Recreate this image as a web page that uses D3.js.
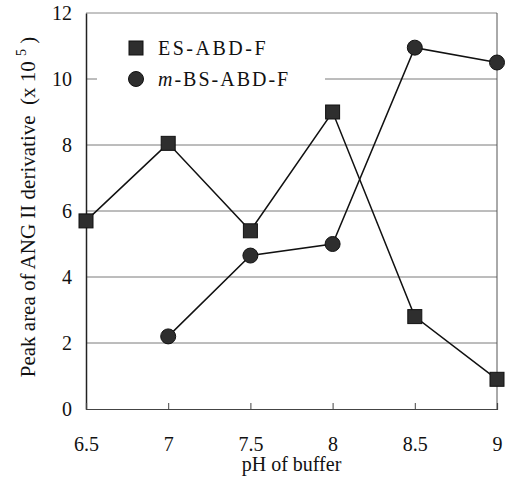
<!DOCTYPE html>
<html><head><meta charset="utf-8">
<script src="https://cdn.jsdelivr.net/npm/d3@7"></script>
<style>html,body{margin:0;padding:0;background:#fff;}
svg text{font-family:"Liberation Serif","DejaVu Serif",serif;}</style>
</head><body>
<svg id="c" width="508" height="481"></svg>
<script>
const phValues = [6.5, 7, 7.5, 8, 8.5, 9];
const esAbdF = [5.7, 8.05, 5.4, 9.0, 2.8, 0.9];
const mbsPh = [7, 7.5, 8, 8.5, 9];
const mbsAbdF = [2.2, 4.65, 5.0, 10.95, 10.5];
const yTicks = [0, 2, 4, 6, 8, 10, 12];
const xTickLabels = ["6.5", "7", "7.5", "8", "8.5", "9"];

const svg = d3.select("#c");
const L = 86, R = 497, T = 13, B = 409;
const x = d3.scaleLinear().domain([6.5, 9]).range([L, R]);
const y = d3.scaleLinear().domain([0, 12]).range([B, T]);

const grid = svg.append("g");
[2,4,6,8,10].forEach(v => {
  grid.append("line").attr("x1", L).attr("x2", R).attr("y1", y(v)).attr("y2", y(v))
    .attr("stroke", "#7a7a7a").attr("stroke-width", 1);
});
svg.append("rect").attr("x", 97).attr("y", y(10) - 8).attr("width", 228).attr("height", 16).attr("fill", "#fff");

svg.append("line").attr("x1", L).attr("x2", R).attr("y1", T).attr("y2", T).attr("stroke", "#888").attr("stroke-width", 1);
svg.append("line").attr("x1", R).attr("x2", R).attr("y1", T).attr("y2", B).attr("stroke", "#555").attr("stroke-width", 1);

const yAxis = d3.axisLeft(y).tickValues(yTicks).tickSize(0).tickPadding(14).tickFormat(d3.format("d"));
const gy = svg.append("g").attr("transform", `translate(${L},0)`).call(yAxis);
gy.attr("font-family", null);
gy.select(".domain").attr("stroke", "#222").attr("stroke-width", 1.5);
gy.selectAll("text").attr("font-size", 20).attr("fill", "#111");

const xAxis = d3.axisBottom(x).tickValues(phValues).tickSize(-6).tickPadding(28)
  .tickFormat((d, i) => xTickLabels[i]);
const gx = svg.append("g").attr("transform", `translate(0,${B})`).call(xAxis);
gx.attr("font-family", null);
gx.select(".domain").attr("stroke", "#444").attr("stroke-width", 1.2);
gx.selectAll(".tick line").attr("stroke", "#444");
gx.selectAll("text").attr("font-size", 20).attr("fill", "#111");

const line = d3.line().x(d => x(d[0])).y(d => y(d[1]));
const esData = phValues.map((p, i) => [p, esAbdF[i]]);
const mbsData = mbsPh.map((p, i) => [p, mbsAbdF[i]]);
svg.append("path").datum(esData).attr("d", line).attr("fill", "none").attr("stroke", "#111").attr("stroke-width", 1.5);
svg.append("path").datum(mbsData).attr("d", line).attr("fill", "none").attr("stroke", "#111").attr("stroke-width", 1.5);

const mfill = "#2e2e2e";
svg.selectAll(".sq").data(esData).enter().append("rect")
  .attr("x", d => x(d[0]) - 7).attr("y", d => y(d[1]) - 7).attr("width", 14).attr("height", 14)
  .attr("fill", mfill).attr("stroke", "#111").attr("stroke-width", 1);
svg.selectAll(".ci").data(mbsData).enter().append("circle")
  .attr("cx", d => x(d[0])).attr("cy", d => y(d[1])).attr("r", 7.5)
  .attr("fill", mfill).attr("stroke", "#111").attr("stroke-width", 1);

svg.append("rect").attr("x", 129).attr("y", 41).attr("width", 14).attr("height", 14).attr("fill", mfill).attr("stroke", "#111");
svg.append("circle").attr("cx", 136).attr("cy", 79).attr("r", 7.5).attr("fill", mfill).attr("stroke", "#111");
svg.append("text").attr("x", 158).attr("y", 55).attr("font-size", 20).attr("fill", "#111")
  .attr("letter-spacing", 2.5).text("ES-ABD-F");
const t2 = svg.append("text").attr("x", 158).attr("y", 86).attr("font-size", 20).attr("fill", "#111").attr("letter-spacing", 2);
t2.append("tspan").attr("font-style", "italic").text("m");
t2.append("tspan").text("-BS-ABD-F");

svg.append("text").attr("x", (L + R) / 2).attr("y", 471).attr("text-anchor", "middle")
  .attr("font-size", 20).attr("fill", "#111").text("pH of buffer");
const yl = svg.append("text").attr("transform", "translate(35,207) rotate(-90)").attr("text-anchor", "middle")
  .attr("font-size", 21).attr("fill", "#111");
yl.append("tspan").text("Peak area of ANG II derivative\u00a0\u00a0(x 10 ");
yl.append("tspan").attr("dy", -9).attr("font-size", 14).text("5");
yl.append("tspan").attr("dy", 9).text(" )");
</script>
</body></html>
